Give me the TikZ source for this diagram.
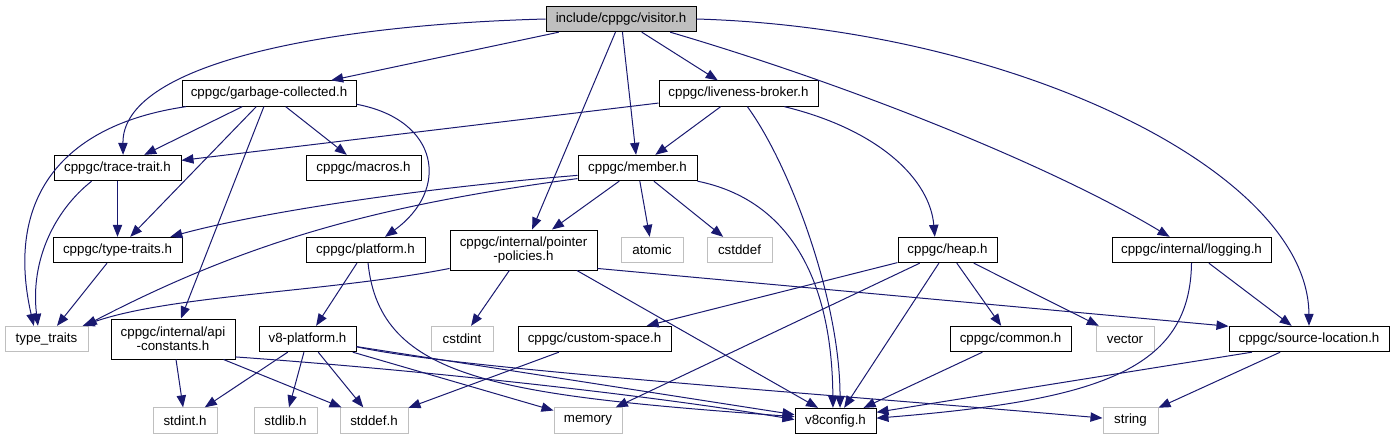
\documentclass[tikz,border=0pt]{standalone}
\usepackage{fontspec}
\setmainfont{Liberation Sans}
\usepackage{tikz}
\usetikzlibrary{arrows.meta}

\definecolor{edgeblue}{HTML}{191970}
\definecolor{sysgray}{HTML}{BFBFBF}

\begin{document}
\begin{tikzpicture}[
  x=0.75pt, y=-0.75pt,
  font=\fontsize{10}{10.7}\selectfont, >=Triangle,
  hdr/.style={draw=black, line width=0.75pt, fill=white, inner sep=0pt, minimum height=19pt, align=center},
  sys/.style={hdr, draw=sysgray},
  root/.style={hdr, fill=sysgray},
  tall/.style={minimum height=30pt},
  wd/.style={minimum width=#1*0.75pt},
  dep/.style={draw=edgeblue, line width=0.75pt, -{Triangle[length=9pt,width=7pt]}},
]
\useasboundingbox (0,0) rectangle (1394,440);
% ---- headers, row by row
\node[root, wd=150] (visitor) at (621,19) {include/cppgc/visitor.h};
\node[hdr, wd=174] (gc) at (269,93.5) {cppgc/garbage-collected.h};
\node[hdr, wd=159] (liveness) at (738.5,93.5) {cppgc/liveness-broker.h};
\node[hdr, wd=127] (trace) at (117.5,168) {cppgc/trace-trait.h};
\node[hdr, wd=115] (macros) at (363.5,168) {cppgc/macros.h};
\node[hdr, wd=119] (member) at (637.5,168) {cppgc/member.h};
\node[hdr, wd=129] (typetr) at (117.5,250) {cppgc/type-traits.h};
\node[hdr, wd=119] (platform) at (365.5,250) {cppgc/platform.h};
\node[hdr, wd=147, tall] (pointer) at (523.5,250) {cppgc/internal/pointer\\-policies.h};
\node[sys, wd=62] (atomic) at (652,250) {atomic};
\node[sys, wd=65] (cstddef) at (739.5,250) {cstddef};
\node[hdr, wd=99] (heap) at (947.5,250) {cppgc/heap.h};
\node[hdr, wd=159] (logging) at (1191.5,250) {cppgc/internal/logging.h};
\node[sys, wd=83] (stdtr) at (46.5,339) {type\_traits};
\node[hdr, wd=124, tall] (apiconst) at (173,339) {cppgc/internal/api\\-constants.h};
\node[hdr, wd=97] (v8plat) at (307.5,339) {v8-platform.h};
\node[sys, wd=62] (cstdint) at (462,339) {cstdint};
\node[hdr, wd=153] (custom) at (594.5,339) {cppgc/custom-space.h};
\node[hdr, wd=121] (common) at (1010.5,339) {cppgc/common.h};
\node[sys, wd=58] (vector) at (1125,339) {vector};
\node[hdr, wd=160] (srcloc) at (1309,339) {cppgc/source-location.h};
\node[sys, wd=64] (stdint) at (185,420.5) {stdint.h};
\node[sys, wd=63] (stdlib) at (285.5,420.5) {stdlib.h};
\node[sys, wd=68] (stddef) at (374,420.5) {stddef.h};
\node[sys, wd=68] (memory) at (588,420.5) {memory};
\node[hdr, wd=81] (v8config) at (835.5,421) {v8config.h};
\node[sys, wd=55] (string) at (1130.5,420.5) {string};
% ---- straight includes
\foreach \a/\b in {visitor/gc, visitor/pointer, visitor/member, visitor/liveness,
  gc/trace, gc/typetr, gc/apiconst, gc/macros, liveness/trace, liveness/member,
  trace/typetr, member/pointer, member/atomic, member/cstddef, typetr/stdtr,
  platform/v8plat, pointer/cstdint, heap/custom, heap/memory, heap/v8config,
  heap/common, heap/vector, logging/srcloc, apiconst/stdint, apiconst/stddef,
  v8plat/stdint, v8plat/stdlib, v8plat/stddef, v8plat/memory, v8plat/v8config,
  custom/stddef, common/v8config, srcloc/string}
  \draw[dep] (\a) -- (\b);
\draw[dep] (pointer.-14.5) -- (srcloc.171.5);
\draw[dep] (pointer.-21) -- (v8config.143);
\draw[dep] (srcloc.193) -- (v8config.12);
% ---- curved includes
\draw[dep] (visitor.west) .. controls (320,25) and (122,65) .. (trace.67);
\draw[dep] (visitor.-15) .. controls (850,85) and (1050,165) .. (logging.149);
\draw[dep] (visitor.east) .. controls (1010,28) and (1308,170) .. (srcloc.north);
\draw[dep] (gc.189) .. controls (60,125) and (5,200) .. (stdtr.134);
\draw[dep] (gc.-7) .. controls (440,120) and (450,190) .. (platform.34);
\draw[dep] (trace.207) .. controls (55,210) and (30,260) .. (stdtr.123);
\draw[dep] (liveness.-56) .. controls (790,165) and (840,300) .. (v8config.71);
\draw[dep] (liveness.-16) .. controls (880,130) and (930,180) .. (heap.134);
\draw[dep] (member.187) .. controls (400,190) and (250,215) .. (typetr.14);
\draw[dep] (member.190) .. controls (380,205) and (250,240) .. (stdtr.19);
\draw[dep] (member.south east) .. controls (790,200) and (832,280) .. (v8config.101);
\draw[dep] (pointer.194) .. controls (330,292) and (170,295) .. (stdtr.20);
\draw[dep] (platform.-79) .. controls (380,380) and (500,395) .. (v8config.174);
\draw[dep] (logging.south) .. controls (1190,370) and (1100,400) .. (v8config.4);
\draw[dep] (apiconst.-16) .. controls (420,370) and (650,395) .. (v8config.178);
\draw[dep] (v8plat.-9) .. controls (450,368) and (800,392) .. (string.175);
\end{tikzpicture}
\end{document}
